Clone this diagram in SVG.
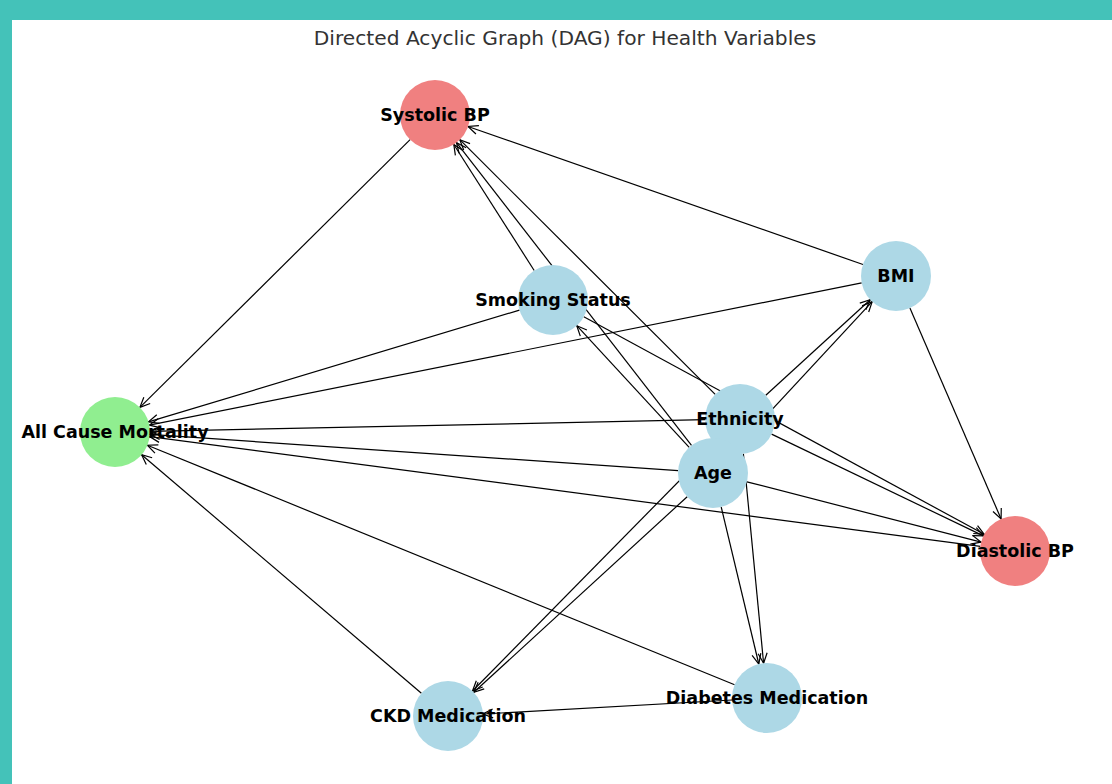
<svg xmlns="http://www.w3.org/2000/svg" width="1112" height="784" viewBox="0 0 1112 784">
  <style>
    .edge { stroke: #000; stroke-width: 1.2; fill: none; marker-end: url(#head); }
    .blue { fill: #add8e6; }
    .red { fill: #f08080; }
    .green { fill: #90ee90; }
    .label { font-family: "DejaVu Sans", sans-serif; font-weight: bold; font-size: 17.5px; fill: #000; text-anchor: middle; dominant-baseline: central; }
    .title { font-family: "DejaVu Sans", sans-serif; font-size: 20.2px; fill: #333333; text-anchor: middle; }
  </style>
  <defs>
    <marker id="head" viewBox="-12 -7 14 14" markerWidth="14" markerHeight="14" refX="0" refY="0" orient="auto" markerUnits="userSpaceOnUse" overflow="visible">
      <path d="M-10,-4.5 L0,0 L-10,4.5" fill="none" stroke="#000" stroke-width="1.2"/>
    </marker>
  </defs>

  <!-- page background and frame -->
  <rect x="0" y="0" width="1112" height="784" fill="#ffffff"/>
  <rect x="0" y="0" width="1112" height="20" fill="#44c2b9"/>
  <rect x="0" y="0" width="12" height="784" fill="#44c2b9"/>

  <text class="title" x="565" y="45">Directed Acyclic Graph (DAG) for Health Variables</text>

  <g id="connectors">
    <line class="edge" x1="410.1" y1="139.6" x2="139.9" y2="407.4"/>
    <line class="edge" x1="863.0" y1="264.5" x2="468.0" y2="126.5"/>
    <line class="edge" x1="861.7" y1="282.9" x2="149.3" y2="425.1"/>
    <line class="edge" x1="909.9" y1="308.1" x2="1001.1" y2="518.9"/>
    <line class="edge" x1="534.2" y1="270.5" x2="453.8" y2="144.5"/>
    <line class="edge" x1="519.5" y1="310.1" x2="148.5" y2="421.9"/>
    <line class="edge" x1="583.8" y1="316.7" x2="984.2" y2="534.3"/>
    <line class="edge" x1="715.2" y1="394.3" x2="459.8" y2="139.7"/>
    <line class="edge" x1="705.0" y1="419.7" x2="150.0" y2="431.3"/>
    <line class="edge" x1="765.8" y1="395.3" x2="870.2" y2="299.7"/>
    <line class="edge" x1="771.6" y1="434.1" x2="983.4" y2="535.9"/>
    <line class="edge" x1="715.5" y1="444.0" x2="472.5" y2="691.0"/>
    <line class="edge" x1="743.4" y1="453.8" x2="763.6" y2="663.2"/>
    <line class="edge" x1="691.5" y1="445.4" x2="456.5" y2="142.6"/>
    <line class="edge" x1="689.2" y1="447.3" x2="576.8" y2="325.7"/>
    <line class="edge" x1="678.1" y1="470.6" x2="149.9" y2="434.4"/>
    <line class="edge" x1="736.8" y1="447.4" x2="872.2" y2="301.6"/>
    <line class="edge" x1="746.9" y1="481.8" x2="981.1" y2="542.2"/>
    <line class="edge" x1="687.2" y1="496.7" x2="473.8" y2="692.3"/>
    <line class="edge" x1="721.2" y1="507.0" x2="758.8" y2="664.0"/>
    <line class="edge" x1="980.3" y1="546.4" x2="149.7" y2="436.6"/>
    <line class="edge" x1="421.4" y1="693.3" x2="141.6" y2="454.7"/>
    <line class="edge" x1="734.6" y1="684.8" x2="147.4" y2="445.2"/>
    <line class="edge" x1="732.1" y1="700.0" x2="482.9" y2="714.0"/>
  </g>

  <g id="node-systolic-bp">
    <circle class="red" cx="435" cy="115" r="35"/>
  </g>
  <g id="node-smoking-status">
    <circle class="blue" cx="553" cy="300" r="35"/>
  </g>
  <g id="node-bmi">
    <circle class="blue" cx="896" cy="276" r="35"/>
  </g>
  <g id="node-ethnicity">
    <circle class="blue" cx="740" cy="419" r="35"/>
  </g>
  <g id="node-age">
    <circle class="blue" cx="713" cy="473" r="35"/>
  </g>
  <g id="node-all-cause-mortality">
    <circle class="green" cx="115" cy="432" r="35"/>
  </g>
  <g id="node-diastolic-bp">
    <circle class="red" cx="1015" cy="551" r="35"/>
  </g>
  <g id="node-ckd-medication">
    <circle class="blue" cx="448" cy="716" r="35"/>
  </g>
  <g id="node-diabetes-medication">
    <circle class="blue" cx="767" cy="698" r="35"/>
  </g>

  <!-- labels sit above every circle -->
  <g id="labels">
    <text class="label" x="435" y="115">Systolic BP</text>
    <text class="label" x="553" y="300">Smoking Status</text>
    <text class="label" x="896" y="276">BMI</text>
    <text class="label" x="740" y="419">Ethnicity</text>
    <text class="label" x="713" y="473">Age</text>
    <text class="label" x="115" y="432">All Cause Mortality</text>
    <text class="label" x="1015" y="551">Diastolic BP</text>
    <text class="label" x="448" y="716">CKD Medication</text>
    <text class="label" x="767" y="698">Diabetes Medication</text>
  </g>
</svg>
